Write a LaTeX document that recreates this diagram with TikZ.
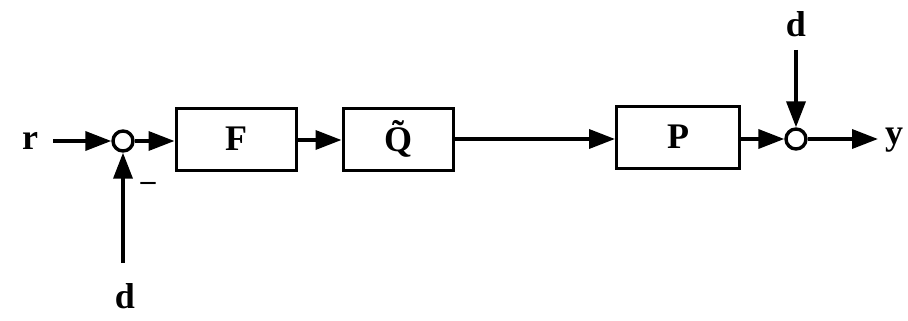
\documentclass[tikz,border=0pt]{standalone}
\usepackage{fontspec}
\setmainfont{Liberation Serif}
\usetikzlibrary{arrows.meta}
\begin{document}
\begin{tikzpicture}[x=1pt,y=-1pt,
  sig/.style={line width=3.6pt,-{Triangle[length=26pt,width=19pt]}},
  blockbox/.style={draw,line width=3pt,minimum width=120pt,minimum height=62pt,inner sep=0pt,font=\fontsize{36}{38}\selectfont\bfseries},
  sumpt/.style={circle,draw,line width=3.4pt,minimum size=20pt,inner sep=0pt},
  lbl/.style={inner sep=0pt,font=\fontsize{36}{38}\selectfont\bfseries}]
\useasboundingbox (0,0) rectangle (908,321);
% signal labels
\node[lbl] (r) at (30,141) {r};
\node[lbl] (dtop) at (796,24) {d};
\node[lbl] (dbot) at (125,296) {d};
\node[lbl] (y) at (894,140) {y};
\node[inner sep=0pt,font=\fontsize{30}{32}\selectfont\bfseries] (minus) at (148,186) {–};
% summing junctions
\node[sumpt] (s1) at (123,141) {};
\node[sumpt] (s2) at (796,139) {};
% blocks
\node[blockbox] (F) at (236,139) {F};
\node[blockbox,minimum width=110pt] (Q) at (398,139) {\~{Q}};
\node[blockbox,minimum width=123pt] (P) at (678,137) {P};
% free ends of the signal lines
\coordinate (rs) at (53,141);
\coordinate (ds) at (123,263);
\coordinate (dts) at (796,50);
\coordinate (ye) at (878,139);
% connectors
\draw[sig] (rs) -- (s1.west);
\draw[sig] (ds) -- (s1.south);
\draw[sig] (s1.east) -- (F.west |- s1.east);
\draw[sig] (F.east |- 0,140) -- (Q.west |- 0,140);
\draw[sig] (Q.east |- 0,139) -- (P.west |- 0,139);
\draw[sig] (P.east |- s2.west) -- (s2.west);
\draw[sig] (dts) -- (s2.north);
\draw[sig] (s2.east) -- (ye);
\end{tikzpicture}
\end{document}
